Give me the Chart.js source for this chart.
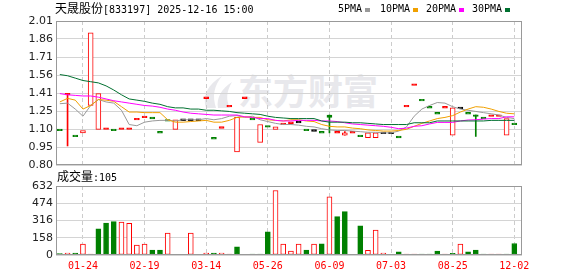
<!DOCTYPE html>
<html>
<head>
<meta charset="utf-8">
<script src="https://cdn.jsdelivr.net/npm/chart.js@4.4.1/dist/chart.umd.min.js"></script>
<style>
    html, body { margin: 0; padding: 0; background: #fff; }
    #wrap { position: relative; width: 578px; height: 276px; overflow: hidden; }
    #wrap canvas { position: absolute; left: 0; top: 0; }
    .txt { position: absolute; white-space: nowrap; color: #000; line-height: 16px; }
    .cn { font-family: "Noto Sans CJK SC"; font-size: 12px; }
    .mono { font-family: "DejaVu Sans Mono"; font-size: 10px; }
    .key { position: absolute; top: 8px; width: 5px; height: 4px; }
    #mark { position: absolute; left: 238px; top: 68px; font-family: "Noto Sans CJK SC"; font-weight: 700;
            font-size: 35px; line-height: 44px; color: #e8e8ec; white-space: nowrap; }
    #logo { position: absolute; left: 200px; top: 74px; }
</style>
</head>
<body>
<div id="wrap">
    <svg id="logo" width="36" height="36" viewBox="0 0 36 36">
        <path d="M6 34 C2 22 8 10 22 2 C14 12 12 22 16 34 Z" fill="#e8e8ec"/>
        <path d="M18 34 C16 24 22 14 32 8 C26 18 26 26 30 34 Z" fill="#e8e8ec"/>
    </svg>
    <div id="mark">东方财富</div>
    <canvas id="price" width="578" height="276"></canvas>
    <canvas id="volume" width="578" height="276"></canvas>

    <div class="txt" style="left:55px; top:0px;"><span class="cn">天晟股份</span><span class="mono">[833197] 2025-12-16 15:00</span></div>

    <div class="txt mono" style="left:338px; top:1px;">5PMA</div>
    <div class="key" style="left:365px; background:#999;"></div>
    <div class="txt mono" style="left:380px; top:1px;">10PMA</div>
    <div class="key" style="left:413px; background:#f0a000;"></div>
    <div class="txt mono" style="left:426px; top:1px;">20PMA</div>
    <div class="key" style="left:459px; background:#ff00ff;"></div>
    <div class="txt mono" style="left:472px; top:1px;">30PMA</div>
    <div class="key" style="left:505px; background:#007030;"></div>

    <div class="txt" style="left:57px; top:168px;"><span class="cn">成交量</span><span class="mono">:105</span></div>
</div>
<script>
// daily candles, oldest first
const opens  = [1.10, 1.39, 1.05, 1.07, 1.30, 1.10, 1.10, 1.10, 1.10, 1.10,
                1.18, 1.20, 1.20, 1.08, 1.18, 1.10, 1.18, 1.18, 1.18, 1.36,
                1.03, 1.11, 1.29, 0.91, 1.36, 1.19, 0.99, 1.13, 1.10, 1.14,
                1.15, 1.16, 1.10, 1.09, 1.08, 1.22, 1.07, 1.05, 1.07, 1.05,
                1.03, 1.03, 1.07, 1.07, 1.04, 1.29, 1.47, 1.35, 1.29, 1.24,
                1.28, 1.05, 1.28, 1.24, 1.22, 1.20, 1.21, 1.21, 1.05, 1.15];
const highs  = [1.10, 1.40, 1.05, 1.09, 1.91, 1.40, 1.11, 1.10, 1.11, 1.11,
                1.19, 1.21, 1.20, 1.08, 1.18, 1.18, 1.18, 1.18, 1.18, 1.37,
                1.03, 1.12, 1.30, 1.20, 1.37, 1.19, 1.14, 1.13, 1.12, 1.15,
                1.16, 1.16, 1.10, 1.09, 1.08, 1.22, 1.08, 1.08, 1.08, 1.05,
                1.07, 1.07, 1.07, 1.07, 1.04, 1.30, 1.48, 1.35, 1.29, 1.24,
                1.29, 1.28, 1.28, 1.24, 1.22, 1.20, 1.22, 1.22, 1.19, 1.15];
const lows   = [1.09, 0.96, 1.04, 1.07, 1.30, 1.10, 1.10, 1.09, 1.10, 1.10,
                1.18, 1.20, 1.19, 1.07, 1.17, 1.10, 1.18, 1.18, 1.18, 1.36,
                1.02, 1.11, 1.29, 0.91, 1.36, 1.18, 0.99, 1.12, 1.10, 1.14,
                1.15, 1.16, 1.09, 1.09, 1.07, 1.07, 1.07, 1.05, 1.07, 1.04,
                1.03, 1.03, 1.07, 1.07, 1.03, 1.29, 1.47, 1.34, 1.28, 1.23,
                1.28, 1.05, 1.28, 1.23, 1.04, 1.19, 1.21, 1.21, 1.05, 1.14];
const closes = [1.09, 1.40, 1.04, 1.09, 1.91, 1.40, 1.11, 1.09, 1.11, 1.11,
                1.19, 1.21, 1.19, 1.07, 1.17, 1.18, 1.18, 1.18, 1.18, 1.37,
                1.02, 1.12, 1.30, 1.20, 1.37, 1.18, 1.14, 1.12, 1.12, 1.15,
                1.16, 1.16, 1.09, 1.09, 1.07, 1.20, 1.08, 1.07, 1.08, 1.04,
                1.07, 1.07, 1.07, 1.07, 1.03, 1.30, 1.48, 1.34, 1.28, 1.23,
                1.29, 1.28, 1.28, 1.23, 1.21, 1.19, 1.22, 1.22, 1.19, 1.14];
const prevClose = 1.10; // close of the day before the first candle

const volumes = [12, 18, 18, 99, 8, 240, 293, 305, 302, 290,
                 92, 99, 46, 46, 200, 6, 6, 200, 5, 18,
                 18, 18, 8, 74, 6, 8, 8, 213, 591, 99,
                 37, 99, 46, 99, 102, 533, 351, 397, 6, 268,
                 43, 228, 18, 6, 28, 8, 8, 8, 8, 37,
                 8, 15, 99, 28, 46, 8, 8, 8, 8, 105];

const ma5  = [1.315, 1.32, 1.27, 1.21, 1.30, 1.35, 1.33, 1.32, 1.26, 1.14,
              1.13, 1.16, 1.17, 1.175, 1.175, 1.17, 1.18, 1.18, 1.18, 1.19,
              1.18, 1.19, 1.21, 1.215, 1.20, 1.21, 1.18, 1.165, 1.15, 1.14,
              1.14, 1.135, 1.125, 1.12, 1.105, 1.095, 1.09, 1.09, 1.085, 1.08,
              1.075, 1.075, 1.07, 1.07, 1.085, 1.12, 1.21, 1.27, 1.30, 1.325,
              1.32, 1.29, 1.27, 1.26, 1.25, 1.24, 1.23, 1.22, 1.20, 1.19];
const ma10 = [1.33, 1.36, 1.345, 1.27, 1.30, 1.35, 1.345, 1.335, 1.29, 1.245,
              1.245, 1.24, 1.24, 1.24, 1.18, 1.16, 1.16, 1.165, 1.17, 1.175,
              1.16, 1.16, 1.175, 1.20, 1.205, 1.20, 1.20, 1.18, 1.175, 1.17,
              1.18, 1.18, 1.17, 1.165, 1.14, 1.125, 1.12, 1.12, 1.11, 1.105,
              1.095, 1.09, 1.085, 1.085, 1.09, 1.10, 1.125, 1.15, 1.17, 1.19,
              1.20, 1.215, 1.245, 1.27, 1.29, 1.285, 1.27, 1.25, 1.235, 1.23];
const ma20 = [1.40, 1.39, 1.385, 1.38, 1.38, 1.37, 1.355, 1.34, 1.33, 1.32,
              1.31, 1.30, 1.295, 1.285, 1.27, 1.26, 1.245, 1.235, 1.23, 1.225,
              1.22, 1.22, 1.22, 1.22, 1.205, 1.20, 1.19, 1.19, 1.175, 1.17,
              1.17, 1.175, 1.175, 1.175, 1.17, 1.17, 1.165, 1.155, 1.145, 1.14,
              1.135, 1.13, 1.125, 1.117, 1.105, 1.11, 1.125, 1.13, 1.145, 1.158,
              1.158, 1.158, 1.17, 1.178, 1.18, 1.186, 1.19, 1.19, 1.205, 1.205];
const ma30 = [1.56, 1.55, 1.53, 1.51, 1.50, 1.49, 1.465, 1.43, 1.39, 1.355,
              1.345, 1.335, 1.32, 1.31, 1.29, 1.28, 1.28, 1.27, 1.27, 1.26,
              1.26, 1.255, 1.25, 1.24, 1.235, 1.23, 1.225, 1.21, 1.20, 1.195,
              1.19, 1.19, 1.19, 1.19, 1.17, 1.16, 1.16, 1.16, 1.155, 1.155,
              1.15, 1.145, 1.14, 1.14, 1.14, 1.14, 1.155, 1.155, 1.155, 1.17,
              1.17, 1.17, 1.17, 1.17, 1.17, 1.17, 1.175, 1.175, 1.175, 1.175];

const xTickIdx = [3, 11, 19, 27, 35, 43, 51, 59];
const xTickLabels = ['01-24', '02-19', '03-14', '05-26', '06-09', '07-03', '08-25', '12-02'];
const priceTickLabels = ['0.80', '0.95', '1.10', '1.25', '1.41', '1.56', '1.71', '1.86', '2.01'];
const volumeTickLabels = ['0', '158', '316', '474', '632'];

const RED = '#ff0000';
const GREEN = '#008000';
const BLACK = '#000000';
const PRICE_MIN = 0.80, PRICE_MAX = 2.01;
const VOL_MAX = 632;

const candleColor = i => closes[i] > opens[i] ? RED : (closes[i] < opens[i] ? GREEN : BLACK);
const isThin = i => Math.abs(closes[i] - opens[i]) < 0.012;

const bodies = closes.map((c, i) => {
    let lo = Math.min(opens[i], c), hi = Math.max(opens[i], c);
    if (isThin(i)) {
        const m = (lo + hi) / 2;
        lo = m - 0.007;
        hi = m + 0.007;
    }
    return { x: i, y: [lo, hi] };
});
const bodyFill = closes.map((c, i) => (candleColor(i) === RED && !isThin(i)) ? '#ffffff' : candleColor(i));
const bodyStroke = closes.map((c, i) => candleColor(i));

const wickIdx = closes.map((c, i) => i).filter(i =>
    highs[i] > Math.max(opens[i], closes[i]) + 1e-9 || lows[i] < Math.min(opens[i], closes[i]) - 1e-9);
const wicks = wickIdx.map(i => ({ x: i, y: [lows[i], highs[i]] }));
const wickColors = wickIdx.map(i => candleColor(i));

const volColor = volumes.map((v, i) => {
    const before = i === 0 ? prevClose : closes[i - 1];
    return closes[i] >= before ? RED : GREEN;
});

const frame = {
    id: 'frame',
    afterDatasetsDraw(chart) {
        const { ctx, chartArea: a } = chart;
        ctx.save();
        ctx.strokeStyle = '#999';
        ctx.lineWidth = 1;
        ctx.strokeRect(Math.round(a.left) + 0.5, Math.round(a.top) + 0.5,
                       Math.round(a.right - a.left) - 1, Math.round(a.bottom - a.top) - 1);
        ctx.restore();
    }
};

const xAxisBase = {
    type: 'linear',
    min: -0.5,
    max: 60,
    offset: false,
    afterBuildTicks: axis => { axis.ticks = xTickIdx.map(v => ({ value: v })); },
    grid: { color: '#cccccc', drawTicks: false, offset: false },
    border: { display: false, dash: [4, 3] }
};

const yTickStyle = {
    color: '#222',
    font: { family: 'DejaVu Sans', size: 11 },
    padding: 3
};

const maLine = (label, data, color) => ({
    type: 'line',
    label: label,
    data: data.map((v, i) => ({ x: i, y: v })),
    borderColor: color,
    borderWidth: 1,
    pointRadius: 0,
    tension: 0,
    order: 1
});

new Chart(document.getElementById('price'), {
    type: 'bar',
    data: {
        datasets: [
            maLine('30PMA', ma30, '#007030'),
            maLine('20PMA', ma20, '#ff00ff'),
            maLine('10PMA', ma10, '#f0a000'),
            maLine('5PMA', ma5, '#999999'),
            {
                label: 'body',
                data: bodies,
                backgroundColor: bodyFill,
                borderColor: bodyStroke,
                borderWidth: 1,
                borderSkipped: false,
                barThickness: 5,
                grouped: false,
                order: 2
            },
            {
                label: 'wick',
                data: wicks,
                backgroundColor: wickColors,
                borderWidth: 0,
                barThickness: 1,
                grouped: false,
                order: 3
            }
        ]
    },
    options: {
        animation: false,
        responsive: false,
        devicePixelRatio: 1,
        layout: { padding: { top: 21, right: 56, bottom: 111, left: 0 } },
        plugins: { legend: { display: false }, tooltip: { enabled: false } },
        scales: {
            x: Object.assign({}, xAxisBase, {
                ticks: { display: false },
                afterFit: s => { s.height = 0; }
            }),
            y: {
                min: PRICE_MIN,
                max: PRICE_MAX,
                afterBuildTicks: axis => {
                    axis.ticks = priceTickLabels.map((t, i) => ({
                        value: PRICE_MIN + i * (PRICE_MAX - PRICE_MIN) / (priceTickLabels.length - 1)
                    }));
                },
                afterFit: s => { s.width = 56; },
                ticks: Object.assign({}, yTickStyle, { callback: (v, i) => priceTickLabels[i] }),
                grid: { color: '#d4d4d4', drawTicks: false },
                border: { display: false }
            }
        }
    },
    plugins: [frame]
});

new Chart(document.getElementById('volume'), {
    type: 'bar',
    data: {
        datasets: [{
            label: '成交量',
            data: volumes.map((v, i) => ({ x: i, y: v })),
            backgroundColor: volColor.map(c => c === RED ? '#ffffff' : GREEN),
            borderColor: volColor,
            borderWidth: 1,
            borderSkipped: false,
            barThickness: 5
        }]
    },
    options: {
        animation: false,
        responsive: false,
        devicePixelRatio: 1,
        layout: { padding: { top: 186, right: 56, bottom: 0, left: 0 } },
        plugins: { legend: { display: false }, tooltip: { enabled: false } },
        scales: {
            x: Object.assign({}, xAxisBase, {
                afterFit: s => { s.height = 21; },
                ticks: {
                    autoSkip: false,
                    maxRotation: 0,
                    color: RED,
                    font: { family: 'DejaVu Sans Mono', size: 10 },
                    padding: 5,
                    callback: (v, i) => xTickLabels[i]
                }
            }),
            y: {
                min: 0,
                max: VOL_MAX,
                afterBuildTicks: axis => {
                    axis.ticks = volumeTickLabels.map(t => ({ value: parseFloat(t) }));
                },
                afterFit: s => { s.width = 56; },
                ticks: Object.assign({}, yTickStyle, { callback: (v, i) => volumeTickLabels[i] }),
                grid: { color: '#d4d4d4', drawTicks: false },
                border: { display: false }
            }
        }
    },
    plugins: [frame]
});
</script>
</body>
</html>
